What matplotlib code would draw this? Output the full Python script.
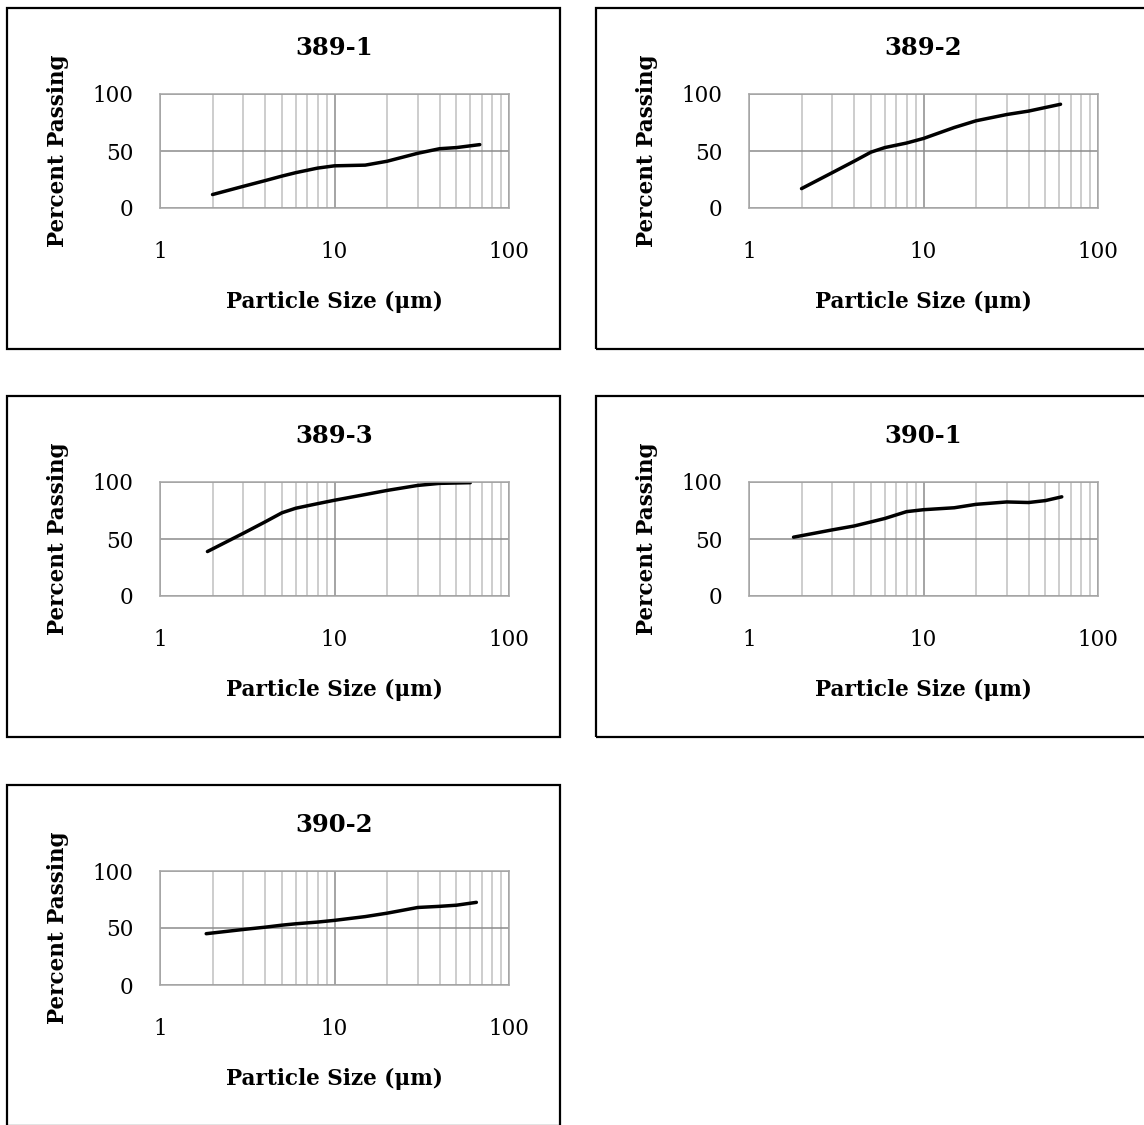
import matplotlib
matplotlib.use("Agg")
import matplotlib.pyplot as plt
from matplotlib.patches import Rectangle
from matplotlib.ticker import FixedLocator, NullFormatter

# panel titles
titles = ["389-1", "389-2", "389-3", "390-1", "390-2"]

# particle size (um) and percent passing
sizes_389_1 = [2, 3, 4, 5, 6, 8, 10, 15, 20, 30, 40, 50, 68]
pass_389_1 = [11.8, 19, 24, 28, 31, 35, 37, 37.6, 41, 48, 52, 53, 55.6]

sizes_389_2 = [2, 3, 4, 5, 6, 8, 10, 15, 20, 30, 40, 61]
pass_389_2 = [17, 31, 41, 49, 53, 57, 61, 70.6, 76.5, 82, 85, 91]

sizes_389_3 = [1.87, 3, 4, 5, 6, 8, 10, 15, 20, 30, 40, 60]
pass_389_3 = [39, 55, 65, 73, 77, 81, 84, 89, 92.6, 97, 98.8, 99.4]

sizes_390_1 = [1.8, 3, 4, 5, 6, 8, 10, 15, 20, 30, 40, 50, 62]
pass_390_1 = [51.6, 58, 61.4, 65, 68, 74, 75.7, 77.4, 80.4, 82.5, 82, 83.7, 87]

sizes_390_2 = [1.84, 3, 4, 5, 6, 8, 10, 15, 20, 30, 40, 50, 65]
pass_390_2 = [45, 48.7, 50.7, 52.5, 53.7, 55.2, 56.7, 60, 63, 68, 69, 70, 72.5]

series = [
    (sizes_389_1, pass_389_1),
    (sizes_389_2, pass_389_2),
    (sizes_389_3, pass_389_3),
    (sizes_390_1, pass_390_1),
    (sizes_390_2, pass_390_2),
]

x_ticks = [1, 10, 100]
y_ticks = [0, 50, 100]

W, H = 1144, 1125
fig = plt.figure(figsize=(W / 100, H / 100), dpi=100)
plt.rcParams["font.family"] = ["DejaVu Serif"]

box_lefts = [7, 596]
box_tops = [8, 396, 785]
box_w, box_h = 553, 341


def fx(px):
    return px / W


def fy(py):
    return 1 - py / H


minor = [m * d for d in (1, 10) for m in range(2, 10)]

for i, (xs, ys) in enumerate(series):
    bl = box_lefts[i % 2]
    bt = box_tops[i // 2]

    # outer frame of the chart
    fig.add_artist(Rectangle((fx(bl), fy(bt + box_h)), box_w / W, box_h / H,
                             transform=fig.transFigure, fill=False,
                             edgecolor="black", linewidth=1.6))

    ax_l, ax_t = bl + 153, bt + 86
    ax = fig.add_axes([fx(ax_l), fy(ax_t + 114), 349 / W, 114 / H])
    ax.set_xscale("log")
    ax.set_xlim(1, 100)
    ax.set_ylim(0, 100)

    ax.xaxis.set_major_locator(FixedLocator(x_ticks))
    ax.xaxis.set_minor_locator(FixedLocator(minor))
    ax.xaxis.set_minor_formatter(NullFormatter())
    ax.set_xticklabels([str(t) for t in x_ticks])
    ax.set_yticks(y_ticks)

    ax.grid(True, which="major", color="#8c8c8c", linewidth=1.1)
    ax.grid(True, which="minor", axis="x", color="#c0c0c0", linewidth=1.1)
    ax.set_axisbelow(True)
    for s in ax.spines.values():
        s.set_color("#a6a6a6")
        s.set_linewidth(1.1)

    ax.tick_params(which="both", length=0)
    ax.tick_params(axis="y", pad=19, labelsize=15.5)
    ax.tick_params(axis="x", pad=24, labelsize=15.5)

    ax.plot(xs, ys, color="black", linewidth=2.5, solid_joinstyle="round",
            solid_capstyle="round")

    ax.set_xlabel("Particle Size (μm)", fontsize=15.5, fontweight="bold",
                  labelpad=20)
    ax.set_ylabel("Percent Passing", fontsize=15.5, fontweight="bold",
                  labelpad=17)
    ax.set_title(titles[i], fontsize=17.5, fontweight="bold", pad=28)

fig.savefig("out.png", dpi=100, facecolor="white")
